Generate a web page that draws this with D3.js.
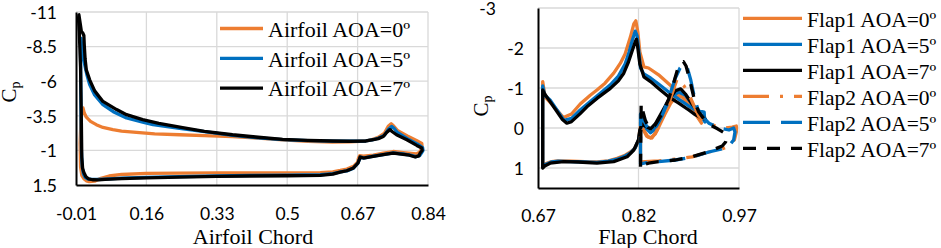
<!DOCTYPE html>
<html><head><meta charset="utf-8">
<script src="https://cdn.jsdelivr.net/npm/d3@7"></script>
<style>body{margin:0;background:#fff;}svg{display:block;}</style>
</head><body>
<svg id="chart" width="941" height="248"></svg>
<script>
// ---------- data ----------
const airfoilTicksX = [-0.01, 0.16, 0.33, 0.5, 0.67, 0.84];
const airfoilTicksY = [-11, -8.5, -6, -3.5, -1, 1.5];
const flapTicksX = [0.67, 0.82, 0.97];
const flapTicksY = [-3, -2, -1, 0, 1];

const airfoilNames = ["Airfoil AOA=0º", "Airfoil AOA=5º", "Airfoil AOA=7º"];
const flapNames = ["Flap1 AOA=0º", "Flap1 AOA=5º", "Flap1 AOA=7º", "Flap2 AOA=0º", "Flap2 AOA=5º", "Flap2 AOA=7º"];

// [chord, Cp]
const airfoilAOA0 = [[0.826,-1.2],[0.825,-1.5],[0.812,-1.72],[0.79,-2.05],[0.766,-2.45],[0.756,-2.8],[0.751,-2.93],[0.744,-2.75],[0.735,-2.25],[0.72,-1.95],[0.705,-1.78],[0.69,-1.68],[0.65,-1.62],[0.609,-1.6],[0.55,-1.66],[0.489,-1.77],[0.43,-1.88],[0.368,-2.0],[0.3,-2.07],[0.24,-2.13],[0.18,-2.2],[0.136,-2.3],[0.1,-2.4],[0.079,-2.5],[0.055,-2.66],[0.039,-2.86],[0.025,-3.1],[0.015,-3.4],[0.01,-3.7],[0.007,-4.06],[0.004,-3.9],[0.002,-3.2],[0.0,-1.5],[0.001,0.2],[0.004,0.8],[0.009,1.05],[0.015,1.2],[0.022,1.26],[0.035,1.22],[0.05,1.02],[0.07,0.85],[0.1,0.74],[0.16,0.66],[0.24,0.64],[0.33,0.63],[0.41,0.63],[0.5,0.62],[0.58,0.6],[0.61,0.55],[0.628,0.45],[0.644,0.35],[0.66,0.15],[0.67,-0.15],[0.672,-0.42],[0.675,-0.62],[0.684,-0.58],[0.708,-0.66],[0.732,-0.8],[0.756,-0.92],[0.78,-0.84],[0.8,-0.78],[0.812,-0.74],[0.82,-0.88],[0.826,-1.2]];
const airfoilAOA5 = [[0.828,-1.0],[0.827,-1.2],[0.815,-1.45],[0.79,-1.85],[0.766,-2.3],[0.758,-2.6],[0.752,-2.73],[0.745,-2.55],[0.735,-2.1],[0.72,-1.88],[0.705,-1.76],[0.69,-1.68],[0.65,-1.66],[0.609,-1.67],[0.55,-1.7],[0.489,-1.78],[0.43,-1.9],[0.368,-2.08],[0.3,-2.35],[0.24,-2.6],[0.176,-2.86],[0.151,-3.05],[0.112,-3.34],[0.08,-3.8],[0.055,-4.3],[0.035,-5.0],[0.023,-5.75],[0.016,-6.5],[0.011,-7.2],[0.006,-8.0],[0.003,-8.8],[0.002,-9.1],[0.001,-8],[0.002,-4],[0.003,-1],[0.005,0.2],[0.008,0.7],[0.012,0.95],[0.018,1.06],[0.028,1.1],[0.04,1.1],[0.06,1.07],[0.1,1.0],[0.16,0.95],[0.24,0.9],[0.33,0.85],[0.41,0.81],[0.5,0.79],[0.58,0.76],[0.61,0.68],[0.628,0.56],[0.644,0.48],[0.66,0.28],[0.671,-0.08],[0.674,-0.33],[0.677,-0.52],[0.686,-0.46],[0.708,-0.58],[0.732,-0.7],[0.756,-0.82],[0.78,-0.74],[0.797,-0.66],[0.811,-0.55],[0.82,-0.62],[0.824,-0.8],[0.828,-1.0]];
const airfoilAOA7 = [[0.826,-1.0],[0.825,-1.17],[0.813,-1.36],[0.789,-1.77],[0.764,-2.13],[0.754,-2.35],[0.748,-2.5],[0.74,-2.3],[0.732,-2.0],[0.72,-1.85],[0.708,-1.77],[0.69,-1.68],[0.65,-1.66],[0.609,-1.68],[0.55,-1.72],[0.489,-1.8],[0.43,-1.95],[0.368,-2.13],[0.3,-2.38],[0.2475,-2.64],[0.19,-2.95],[0.151,-3.22],[0.112,-3.58],[0.088,-3.95],[0.055,-4.54],[0.035,-5.3],[0.023,-6.1],[0.015,-6.8],[0.012,-7.6],[0.01,-8.6],[0.009,-9.3],[0.006,-9.5],[0.003,-9.6],[0.0,-10.2],[-0.003,-10.8],[-0.004,-10.5],[-0.002,-9.5],[0.001,-7],[0.003,-3],[0.004,-0.5],[0.006,0.3],[0.009,0.6],[0.014,0.9],[0.02,1.05],[0.03,1.12],[0.045,1.13],[0.06,1.1],[0.1,1.04],[0.16,0.99],[0.24,0.93],[0.33,0.88],[0.41,0.85],[0.5,0.83],[0.58,0.8],[0.61,0.72],[0.628,0.57],[0.644,0.47],[0.66,0.27],[0.671,-0.09],[0.674,-0.33],[0.676,-0.52],[0.684,-0.45],[0.708,-0.57],[0.732,-0.7],[0.756,-0.81],[0.78,-0.72],[0.795,-0.65],[0.809,-0.52],[0.818,-0.6],[0.821,-0.81],[0.826,-1.0]];

const flap1AOA0 = [[0.677,0.95],[0.677,-1.16],[0.6805,-0.78],[0.693,-0.55],[0.708,-0.26],[0.72,-0.35],[0.733,-0.6],[0.748,-0.82],[0.758,-0.95],[0.77,-1.12],[0.783,-1.37],[0.793,-1.62],[0.8,-1.85],[0.808,-2.28],[0.813,-2.6],[0.816,-2.68],[0.819,-2.4],[0.822,-1.9],[0.828,-1.53],[0.835,-1.5],[0.85,-1.33],[0.87,-1.03],[0.888,-0.72],[0.905,-0.35],[0.914,-0.12],[0.91,-0.3],[0.9,-0.55],[0.888,-0.75],[0.878,-0.82],[0.868,-0.62],[0.858,-0.3],[0.848,0.05],[0.84,0.25],[0.834,0.22],[0.828,0.05],[0.824,-0.15],[0.822,0.05],[0.82,0.3],[0.815,0.5],[0.808,0.6],[0.8,0.68],[0.788,0.76],[0.775,0.82],[0.758,0.85],[0.74,0.84],[0.72,0.83],[0.7,0.82],[0.69,0.84],[0.68,0.9],[0.677,0.95]];
const flap1AOA5 = [[0.677,0.97],[0.677,-1.05],[0.68,-0.82],[0.688,-0.7],[0.698,-0.46],[0.709,-0.19],[0.72,-0.24],[0.733,-0.45],[0.748,-0.66],[0.763,-0.87],[0.778,-1.08],[0.79,-1.3],[0.8,-1.6],[0.806,-1.9],[0.81,-2.15],[0.815,-2.42],[0.818,-2.3],[0.82,-2.0],[0.823,-1.5],[0.828,-1.35],[0.838,-1.25],[0.85,-1.1],[0.865,-0.9],[0.88,-0.72],[0.895,-0.55],[0.905,-0.45],[0.918,-0.4],[0.919,-0.15],[0.912,-0.35],[0.9,-0.6],[0.89,-0.82],[0.88,-0.9],[0.87,-0.8],[0.86,-0.5],[0.85,-0.15],[0.843,0.05],[0.838,0.12],[0.832,0.02],[0.826,-0.15],[0.822,0.1],[0.82,0.3],[0.815,0.5],[0.808,0.62],[0.8,0.7],[0.788,0.78],[0.775,0.83],[0.758,0.86],[0.74,0.85],[0.72,0.84],[0.7,0.83],[0.69,0.85],[0.68,0.92],[0.677,0.97]];
const flap1AOA7 = [[0.677,1.0],[0.677,-0.95],[0.68,-0.85],[0.688,-0.66],[0.698,-0.42],[0.706,-0.22],[0.713,-0.12],[0.72,-0.16],[0.733,-0.36],[0.743,-0.53],[0.758,-0.74],[0.778,-0.99],[0.79,-1.18],[0.798,-1.37],[0.805,-1.65],[0.81,-1.9],[0.815,-2.15],[0.817,-2.22],[0.819,-2.0],[0.822,-1.6],[0.828,-1.28],[0.838,-1.16],[0.85,-0.99],[0.865,-0.78],[0.88,-0.62],[0.895,-0.45],[0.905,-0.33],[0.916,-0.24],[0.92,-0.22],[0.91,-0.38],[0.9,-0.6],[0.89,-0.85],[0.883,-0.98],[0.875,-0.93],[0.865,-0.7],[0.855,-0.4],[0.845,-0.1],[0.838,0.02],[0.83,-0.05],[0.825,-0.1],[0.822,0.05],[0.82,0.3],[0.813,0.55],[0.803,0.72],[0.783,0.84],[0.758,0.88],[0.73,0.85],[0.708,0.84],[0.688,0.88],[0.68,0.95],[0.677,1.0]];

const flap2AOA0 = [[0.823,0.85],[0.823,-0.2],[0.826,0.0],[0.832,0.2],[0.838,0.25],[0.845,0.15],[0.855,-0.2],[0.865,-0.6],[0.872,-0.95],[0.878,-1.24],[0.882,-1.15],[0.888,-1.05],[0.895,-0.85],[0.903,-0.55],[0.91,-0.3],[0.92,-0.15],[0.935,-0.05],[0.95,0.0],[0.96,-0.02],[0.966,-0.05],[0.966,0.1],[0.963,0.3],[0.955,0.45],[0.945,0.52],[0.925,0.6],[0.9,0.72],[0.875,0.78],[0.85,0.82],[0.83,0.84],[0.823,0.85]];
const flap2AOA5 = [[0.823,0.9],[0.823,-0.35],[0.826,-0.25],[0.832,-0.05],[0.838,0.08],[0.845,0.0],[0.855,-0.3],[0.865,-0.75],[0.875,-1.25],[0.882,-1.5],[0.888,-1.6],[0.893,-1.5],[0.898,-1.2],[0.903,-0.8],[0.908,-0.5],[0.915,-0.3],[0.925,-0.12],[0.94,0.0],[0.955,0.05],[0.962,0.0],[0.964,0.1],[0.962,0.3],[0.955,0.45],[0.945,0.52],[0.925,0.6],[0.9,0.73],[0.875,0.8],[0.85,0.84],[0.83,0.87],[0.823,0.9]];
const flap2AOA7 = [[0.823,0.97],[0.824,-0.62],[0.826,-0.45],[0.83,-0.2],[0.835,-0.02],[0.84,0.02],[0.845,-0.08],[0.855,-0.35],[0.865,-0.72],[0.872,-1.1],[0.878,-1.45],[0.883,-1.63],[0.887,-1.66],[0.891,-1.55],[0.895,-1.3],[0.9,-0.95],[0.905,-0.6],[0.91,-0.4],[0.918,-0.22],[0.928,-0.07],[0.938,0.02],[0.948,0.12],[0.952,0.18],[0.95,0.35],[0.945,0.45],[0.935,0.52],[0.925,0.59],[0.9,0.72],[0.875,0.8],[0.85,0.84],[0.835,0.88],[0.826,0.93],[0.823,0.97]];

const seriesColors = ["#ED7D31", "#0070C0", "#000000"];
const flapDashes = ["none", "none", "none", "26,11,3,11", "27,11", "13,11"];

// ---------- drawing ----------
const svg = d3.select("#chart");
const tickFont = "Lato, 'Open Sans', sans-serif";
const serif = "'Liberation Serif', 'Times New Roman', serif";
const gridColor = "#D9D9D9";

function panel(opts) {
  const x = d3.scaleLinear().domain(opts.xDomain).range(opts.xRange);
  const y = d3.scaleLinear().domain(opts.yDomain).range(opts.yRange);
  const g = svg.append("g");
  // grid
  g.append("g").selectAll("line.h").data(opts.yTicks.filter(v => v !== opts.yDomain[1]))
    .join("line").attr("x1", opts.xRange[0]).attr("x2", opts.xRange[1])
    .attr("y1", d => y(d)).attr("y2", d => y(d))
    .attr("stroke", gridColor).attr("stroke-width", 1.3);
  g.append("g").selectAll("line.v").data(opts.xTicks.filter(v => v !== opts.xDomain[0]))
    .join("line").attr("y1", opts.yRange[0]).attr("y2", opts.yRange[1])
    .attr("x1", d => x(d)).attr("x2", d => x(d))
    .attr("stroke", gridColor).attr("stroke-width", 1.3);

  // axes
  const ax = g.append("g").attr("transform", `translate(0,${opts.yRange[1]})`)
    .call(d3.axisBottom(x).tickValues(opts.xTicks).tickSize(0).tickSizeOuter(0).tickFormat(d => String(d)));
  ax.select(".domain").attr("stroke", "#000").attr("stroke-width", 2);
  ax.selectAll("text").attr("font-family", tickFont).attr("font-size", opts.tickSize)
    .attr("fill", "#000").attr("y", opts.xLabelBaseline - opts.yRange[1]).attr("dy", 0);

  const ay = g.append("g").attr("transform", `translate(${opts.xRange[0]},0)`)
    .call(d3.axisLeft(y).tickValues(opts.yTicks).tickSize(0).tickSizeOuter(0).tickFormat(d => String(d)));
  ay.select(".domain").attr("stroke", "#000").attr("stroke-width", 2);
  ay.selectAll("text").attr("font-family", tickFont).attr("font-size", opts.tickSize)
    .attr("fill", "#000").attr("x", -opts.yPad).attr("dy", "0.36em");
  if (opts.firstYShift) {
    ay.selectAll(".tick").filter(d => d === opts.yTicks[0]).select("text")
      .attr("x", -opts.yPad - opts.firstYShift);
  }

  // Cp label
  const cp = g.append("text")
    .attr("transform", `translate(${opts.cpX},${opts.cpY}) rotate(-90)`)
    .attr("text-anchor", "middle").attr("font-family", serif).attr("font-size", 21);
  cp.append("tspan").text("C");
  cp.append("tspan").attr("font-size", 14).attr("dy", 4).text("p");

  // x title
  g.append("text").attr("x", opts.titleX).attr("y", 244).attr("text-anchor", "middle")
    .attr("font-family", serif).attr("font-size", 22).text(opts.title);

  // lines
  const line = d3.line().x(d => x(d[0])).y(d => y(d[1]));
  opts.series.forEach((s, i) => {
    g.append("path").attr("d", line(s.data)).attr("fill", "none")
      .attr("stroke", s.color).attr("stroke-width", 3.3)
      .attr("stroke-linejoin", "round")
      .attr("stroke-linecap", s.dash === "none" ? "round" : "butt")
      .attr("stroke-dasharray", s.dash);
  });

  // legend
  const lg = g.append("g");
  opts.series.forEach((s, i) => {
    const ly = opts.legY0 + i * opts.legStep;
    lg.append("line").attr("x1", opts.legX1).attr("x2", opts.legX2).attr("y1", ly).attr("y2", ly)
      .attr("stroke", s.color).attr("stroke-width", 3.3)
      .attr("stroke-dasharray", s.dash).attr("stroke-linecap", "butt");
    lg.append("text").attr("x", opts.legX2 + 5).attr("y", ly + 8.2)
      .attr("font-family", serif).attr("font-size", opts.legFont).text(s.name);
  });
}

panel({
  xDomain: [-0.01, 0.84], xRange: [76, 428],
  yDomain: [-11, 1.5], yRange: [12, 185],
  xTicks: airfoilTicksX, yTicks: airfoilTicksY,
  tickSize: 17.5, xLabelBaseline: 220, yPad: 19,
  cpX: 16, cpY: 92, title: "Airfoil Chord", titleX: 253,
  series: [airfoilAOA0, airfoilAOA5, airfoilAOA7].map((d, i) => ({
    data: d, color: seriesColors[i], dash: "none", name: airfoilNames[i] })),
  legX1: 220, legX2: 263, legY0: 28.5, legStep: 29.8, legFont: 22
});

panel({
  xDomain: [0.67, 0.97], xRange: [538, 739],
  yDomain: [-3, 1.5], yRange: [8, 188],
  xTicks: flapTicksX, yTicks: flapTicksY,
  tickSize: 17.5, xLabelBaseline: 222, yPad: 14, firstYShift: 28,
  cpX: 488, cpY: 106, title: "Flap Chord", titleX: 648,
  series: [flap1AOA0, flap1AOA5, flap1AOA7, flap2AOA0, flap2AOA5, flap2AOA7].map((d, i) => ({
    data: d, color: seriesColors[i % 3], dash: flapDashes[i], name: flapNames[i] })),
  legX1: 743, legX2: 802, legY0: 18.3, legStep: 26, legFont: 21.5
});
</script>
</body></html>
